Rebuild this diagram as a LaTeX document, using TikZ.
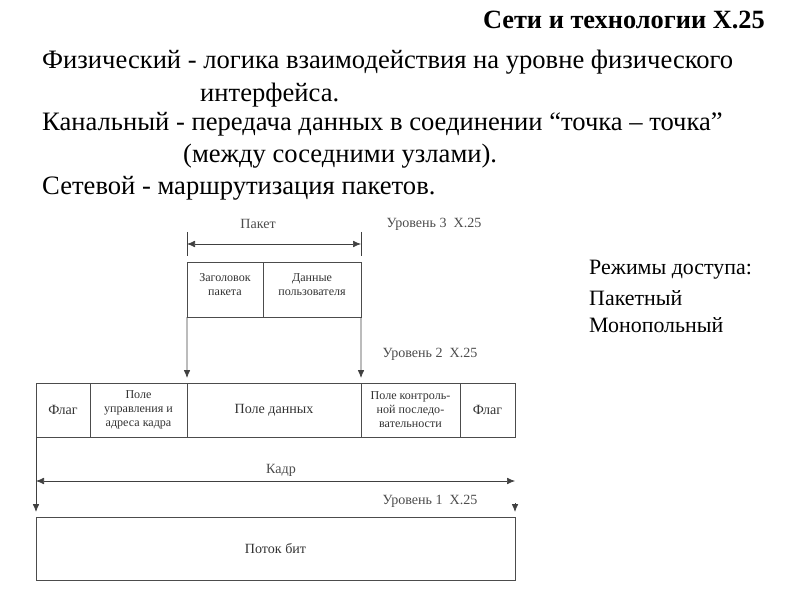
\documentclass[tikz,border=0pt]{standalone}
\usepackage{fontspec}
\setmainfont{Liberation Serif}
\usetikzlibrary{arrows.meta,positioning}
\tikzset{
    cell/.style={draw=black!70,line width=0.8pt,minimum height=16.2mm,inner sep=1pt,outer sep=0pt,align=center,text=black!80,font=\fontsize{10.3}{12}\selectfont},
    bigcell/.style={cell,font=\fontsize{12}{14}\selectfont},
    pktcell/.style={cell,minimum height=16.5mm,text depth=3mm},
    lbl/.style={text=black!70,inner sep=1pt,font=\fontsize{12}{14}\selectfont},
    txt/.style={anchor=west,inner sep=0pt,font=\fontsize{22.7}{26}\selectfont},
    sidetxt/.style={txt,font=\fontsize{18.7}{22}\selectfont},
    arrow/.style={-{Latex[length=2.4mm,width=2mm]},line width=0.7pt,draw=black!75},
    dimarrow/.style={{Latex[length=2.4mm,width=2mm]}-{Latex[length=2.4mm,width=2mm]},line width=0.6pt,draw=black!75}
}
\begin{document}
\begin{tikzpicture}[x=0.3mm,y=-0.3mm]
    \useasboundingbox (0,0) rectangle (800,600);
    % title and text
    \node[anchor=east,inner sep=0pt,font=\bfseries\fontsize{22.5}{26}\selectfont] (title) at (765,20) {Сети и технологии X.25};
    \node[txt] (phys) at (42,62) {Физический - логика взаимодействия на уровне физического};
    \node[txt] (phys2) at (200,95) {интерфейса.};
    \node[txt] (link) at (42,124) {Канальный - передача данных в соединении “точка – точка”};
    \node[txt] (link2) at (183,156) {(между соседними узлами).};
    \node[txt] (net) at (42,188) {Сетевой - маршрутизация пакетов.};
    \node[sidetxt] (modes) at (589,270) {Режимы доступа:};
    \node[sidetxt] (mpkt) at (589,298) {Пакетный};
    \node[sidetxt] (mmono) at (589,325) {Монопольный};

    % level 3: packet
    \node[pktcell,minimum width=22.8mm,anchor=north west] (hdr) at (187,262) {Заголовок\\пакета};
    \node[pktcell,minimum width=29.4mm,right=0pt of hdr] (usr) {Данные\\пользователя};
    \coordinate (tickL) at (187,232);
    \coordinate (tickR) at (361,232);
    \coordinate (pktA) at (187,244);
    \coordinate (pktB) at (361,244);
    \draw[black!75,line width=0.6pt] (tickL) -- ++(0,24);
    \draw[black!75,line width=0.6pt] (tickR) -- ++(0,24);
    \draw[dimarrow] (pktA) -- (pktB);
    \node[lbl] (pktlbl) at (258,224) {Пакет};
    \node[lbl] (lvl3) at (434,224) {Уровень 3\ \ X.25};

    % level 2: frame
    \node[bigcell,minimum width=16.2mm,anchor=north west] (flagA) at (36,383) {Флаг};
    \node[cell,minimum width=29.1mm,right=0pt of flagA] (ctrl) {Поле\\управления и\\адреса кадра};
    \node[bigcell,minimum width=52.2mm,right=0pt of ctrl] (data) {Поле данных};
    \node[cell,minimum width=29.7mm,right=0pt of data] (fcs) {Поле контроль-\\ной последо-\\вательности};
    \node[bigcell,minimum width=16.5mm,right=0pt of fcs] (flagB) {Флаг};
    \draw[arrow,shorten >=1.5mm] (hdr.south west) -- (ctrl.north east);
    \draw[arrow,shorten >=1.5mm] (usr.south east) -- (data.north east);
    \node[lbl] (lvl2) at (430,354) {Уровень 2\ \ X.25};

    % level 1: bits
    \node[bigcell,minimum width=143.7mm,minimum height=18.9mm,anchor=north west] (bits) at (36,517) {Поток бит};
    \coordinate (frmA) at (36,481);
    \coordinate (frmB) at (515,481);
    \draw[dimarrow] (frmA) -- (frmB);
    \node[lbl] (frmlbl) at (281,470) {Кадр};
    \draw[arrow,shorten >=1.5mm] (flagA.south west) -- (bits.north west);
    \draw[arrow,shorten >=1.5mm] ([yshift=4.2mm]bits.north east) -- (bits.north east);
    \node[lbl] (lvl1) at (430,501) {Уровень 1\ \ X.25};
\end{tikzpicture}
\end{document}
